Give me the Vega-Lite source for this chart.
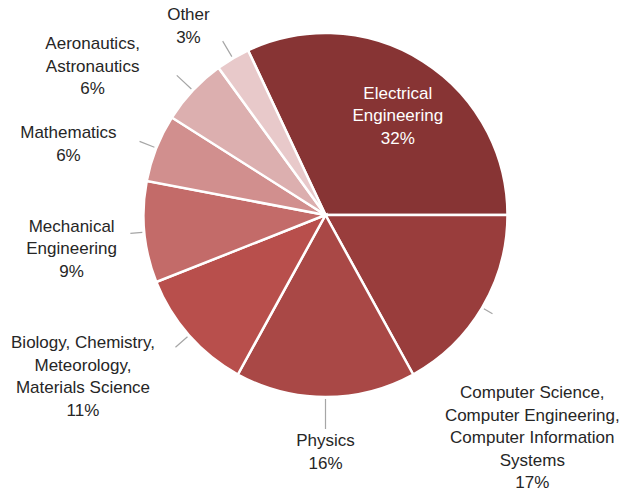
{
  "$schema": "https://vega.github.io/schema/vega-lite/v6.json",
  "width": 609,
  "height": 430,
  "padding": {"left": 21, "top": 0, "right": 0, "bottom": 62},
  "autosize": {"type": "none"},
  "background": "white",
  "view": {"stroke": null},
  "data": {
    "values": [
      {"order": 0, "category": "Electrical Engineering", "value": 32, "label": ["Electrical", "Engineering", "32%"]},
      {"order": 1, "category": "Computer Science, Computer Engineering, Computer Information Systems", "value": 17, "label": ["Computer Science,", "Computer Engineering,", "Computer Information", "Systems", "17%"]},
      {"order": 2, "category": "Physics", "value": 16, "label": ["Physics", "16%"]},
      {"order": 3, "category": "Biology, Chemistry, Meteorology, Materials Science", "value": 11, "label": ["Biology, Chemistry,", "Meteorology,", "Materials Science", "11%"]},
      {"order": 4, "category": "Mechanical Engineering", "value": 9, "label": ["Mechanical", "Engineering", "9%"]},
      {"order": 5, "category": "Mathematics", "value": 6, "label": ["Mathematics", "6%"]},
      {"order": 6, "category": "Aeronautics, Astronautics", "value": 6, "label": ["Aeronautics,", "Astronautics", "6%"]},
      {"order": 7, "category": "Other", "value": 3, "label": ["Other", "3%"]}
    ]
  },
  "layer": [
    {
      "mark": {"type": "arc", "outerRadius": 182, "stroke": "white", "strokeWidth": 2.5},
      "encoding": {
        "theta": {"field": "value", "type": "quantitative", "stack": true, "scale": {"domain": [0, 100], "range": [-0.43982, 5.84336]}},
        "order": {"field": "order", "type": "quantitative"},
        "color": {
          "field": "category",
          "type": "nominal",
          "sort": null,
          "legend": null,
          "scale": {
            "domain": ["Electrical Engineering", "Computer Science, Computer Engineering, Computer Information Systems", "Physics", "Biology, Chemistry, Meteorology, Materials Science", "Mechanical Engineering", "Mathematics", "Aeronautics, Astronautics", "Other"],
            "range": ["#873434", "#993D3C", "#A94846", "#B84F4C", "#C36B69", "#D18F8E", "#DCAFAF", "#E8C9CA"]
          }
        }
      }
    },
    {
      "transform": [
        {"window": [{"op": "sum", "field": "value", "as": "cum"}], "sort": [{"field": "order"}], "frame": [null, 0]},
        {"calculate": "datum.cum - datum.value / 2", "as": "mid"},
        {"filter": "datum.order > 0"}
      ],
      "mark": {
        "type": "arc",
        "fill": null,
        "stroke": "#A6A6A6",
        "strokeWidth": 1.2,
        "innerRadius": 184,
        "outerRadius": {"expr": "[184, 194, 214, 200, 196, 200, 204, 202][datum.order]"}
      },
      "encoding": {
        "theta": {"field": "mid", "type": "quantitative", "stack": null, "scale": {"domain": [0, 100], "range": [-0.43982, 5.84336]}},
        "theta2": {"field": "mid"}
      }
    },
    {
      "mark": {
        "type": "text",
        "font": "Liberation Sans",
        "fontSize": 17,
        "lineHeight": 22.5,
        "align": "center",
        "baseline": "middle",
        "radius": {"expr": "[120, 260, 236, 250, 255, 255, 255, 230][datum.order]"},
        "dx": {"expr": "[8, -17, 0, -55, 0, -20, -47, -20][datum.order]"},
        "dy": {"expr": "[-20, 46, -10, -37, -12, 12, 4, -2][datum.order]"}
      },
      "encoding": {
        "theta": {"field": "value", "type": "quantitative", "stack": true, "scale": {"domain": [0, 100], "range": [-0.43982, 5.84336]}},
        "order": {"field": "order", "type": "quantitative"},
        "text": {"field": "label", "type": "nominal"},
        "color": {"condition": {"test": "datum.order == 0", "value": "#FFFFFF"}, "value": "#262626"}
      }
    }
  ]
}
